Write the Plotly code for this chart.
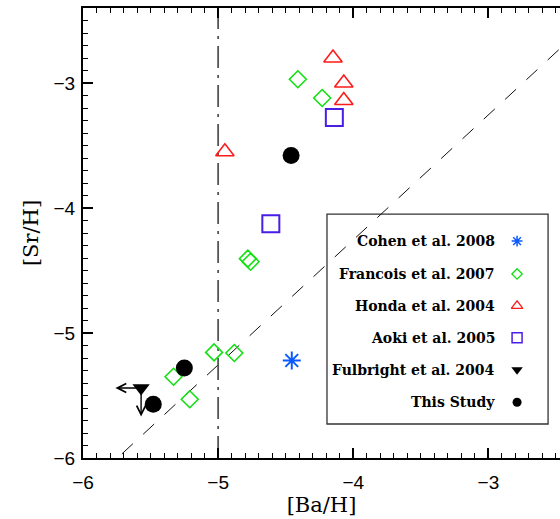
import plotly.graph_objects as go

# [Ba/H] and [Sr/H] abundances for each source
cohen_ba = [-4.455]
cohen_sr = [-5.22]

francois_ba = [-4.41, -4.23, -4.78, -4.76, -5.03, -4.88, -5.33, -5.21]
francois_sr = [-2.97, -3.12, -4.405, -4.43, -5.155, -5.16, -5.35, -5.53]

honda_ba = [-4.15, -4.07, -4.07, -4.95]
honda_sr = [-2.80, -3.00, -3.14, -3.55]

aoki_ba = [-4.14, -4.61]
aoki_sr = [-3.275, -4.125]

fulbright_ba = [-5.57]
fulbright_sr = [-5.44]
fulbright_limit = 0.19  # length of the upper-limit arrows (dex)

study_ba = [-4.46, -5.25, -5.48]
study_sr = [-3.58, -5.28, -5.57]

# reference lines
ba_cut = -5.0          # vertical dash-dot line
sr_ba_offset = -0.255  # dashed line [Sr/H] = [Ba/H] + offset

x_range = [-6.0, -2.47]
y_range = [-6.0, -2.4]
x_ticks = [-6, -5, -4, -3]
y_ticks = [-6, -5, -4, -3]

legend_labels = ["Cohen et al. 2008", "Francois et al. 2007", "Honda et al. 2004",
                 "Aoki et al. 2005", "Fulbright et al. 2004", "This Study"]

GREEN = "#11e011"
RED = "#ff1a1a"
VIOLET = "#4a1ee6"
BLUE = "#0a5aff"

fig = go.Figure()

# dashed diagonal
line_x = [x_range[0] - 0.5, x_range[1] + 0.5]
fig.add_trace(go.Scatter(x=line_x, y=[v + sr_ba_offset for v in line_x], mode="lines",
                         line=dict(color="#111111", width=1, dash="15px,14px"),
                         hoverinfo="skip", showlegend=False))
# vertical dash-dot line
fig.add_trace(go.Scatter(x=[ba_cut, ba_cut], y=[y_range[0], y_range[1]], mode="lines",
                         line=dict(color="#555555", width=1.8, dash="22px,7px,3px,7px"),
                         hoverinfo="skip", showlegend=False))

fig.add_trace(go.Scatter(x=cohen_ba, y=cohen_sr, mode="markers",
                         marker=dict(symbol="asterisk-open", size=15, color=BLUE,
                                     line=dict(color=BLUE, width=2)),
                         showlegend=False))
fig.add_trace(go.Scatter(x=francois_ba, y=francois_sr, mode="markers",
                         marker=dict(symbol="diamond-open", size=13, color=GREEN, line=dict(color=GREEN, width=1.6)),
                         showlegend=False))
fig.add_trace(go.Scatter(x=honda_ba, y=honda_sr, mode="markers",
                         marker=dict(symbol="triangle-up-open", size=16, color=RED, line=dict(color=RED, width=1.6)),
                         showlegend=False))
fig.add_trace(go.Scatter(x=aoki_ba, y=aoki_sr, mode="markers",
                         marker=dict(symbol="square-open", size=17, color=VIOLET, line=dict(color=VIOLET, width=2)),
                         showlegend=False))
fig.add_trace(go.Scatter(x=fulbright_ba, y=fulbright_sr, mode="markers",
                         marker=dict(symbol="triangle-down", size=15, color="black", line=dict(width=0)),
                         showlegend=False))
fig.add_trace(go.Scatter(x=study_ba, y=study_sr, mode="markers",
                         marker=dict(symbol="circle", size=17, color="black", line=dict(width=0)),
                         showlegend=False))

# upper-limit arrows for Fulbright
annotations = []
for bx, sy in zip(fulbright_ba, fulbright_sr):
    for hx, hy in [(bx - fulbright_limit, sy), (bx, sy - fulbright_limit * 1.2)]:
        annotations.append(dict(x=hx, y=hy, ax=bx, ay=sy, xref="x", yref="y", axref="x", ayref="y",
                                showarrow=True, arrowhead=5, arrowsize=1.25, arrowwidth=1.4,
                                arrowcolor="black", text=""))

# legend drawn inside the plot: text right-aligned, symbol to the right
legend_rows = [0.482, 0.409, 0.338, 0.267, 0.196, 0.124]
legend_text_x = 0.868
legend_sym_x = 0.91
legend_styles = [
    dict(symbol="asterisk-open", size=9, color=BLUE, line=dict(color=BLUE, width=1.5)),
    dict(symbol="diamond-open", size=8, color=GREEN, line=dict(color=GREEN, width=1.3)),
    dict(symbol="triangle-up-open", size=10, color=RED, line=dict(color=RED, width=1.3)),
    dict(symbol="square-open", size=10, color=VIOLET, line=dict(color=VIOLET, width=1.5)),
    dict(symbol="triangle-down", size=10, color="black", line=dict(width=0)),
    dict(symbol="circle", size=9, color="black", line=dict(width=0)),
]
for label, ry, style in zip(legend_labels, legend_rows, legend_styles):
    fig.add_trace(go.Scatter(x=[legend_sym_x], y=[ry], xaxis="x2", yaxis="y2", mode="markers",
                             marker=style, showlegend=False, hoverinfo="skip"))
    annotations.append(dict(x=legend_text_x, y=ry, xref="paper", yref="paper", text=label,
                            showarrow=False, xanchor="right", yanchor="middle",
                            font=dict(family="DejaVu Serif", size=14, color="black", weight="bold")))

fig.add_shape(type="rect", xref="paper", yref="paper", x0=0.5115, x1=0.975, y0=0.0756, y1=0.542,
              line=dict(color="#333333", width=1.3), fillcolor="rgba(0,0,0,0)", layer="below")

axis_common = dict(showline=True, linecolor="black", linewidth=2, ticks="inside",
                   tickcolor="black", ticklen=10, tickwidth=1.5, showgrid=False, zeroline=False,
                   tickfont=dict(family="Liberation Sans", size=19, color="black"),
                   minor=dict(dtick=0.1, ticks="inside", ticklen=5, tickwidth=1.2, tickcolor="black",
                              showgrid=False))

fig.update_layout(
    width=560, height=519,
    margin=dict(l=83, r=0, t=8, b=61),
    paper_bgcolor="white", plot_bgcolor="white",
    xaxis=dict(range=x_range, tickvals=x_ticks, mirror="allticks", ticklabelstandoff=6,
               title=dict(text="[Ba/H]", font=dict(family="DejaVu Serif", size=21, color="black"), standoff=5),
               **axis_common),
    yaxis=dict(range=y_range, tickvals=y_ticks, mirror=False, ticklabelstandoff=2,
               title=dict(text="[Sr/H]", font=dict(family="DejaVu Serif", size=21, color="black"), standoff=9),
               **axis_common),
    xaxis2=dict(overlaying="x", range=[0, 1], visible=False),
    yaxis2=dict(overlaying="y", range=[0, 1], visible=False),
    annotations=annotations,
)

fig.write_html("out.html")
